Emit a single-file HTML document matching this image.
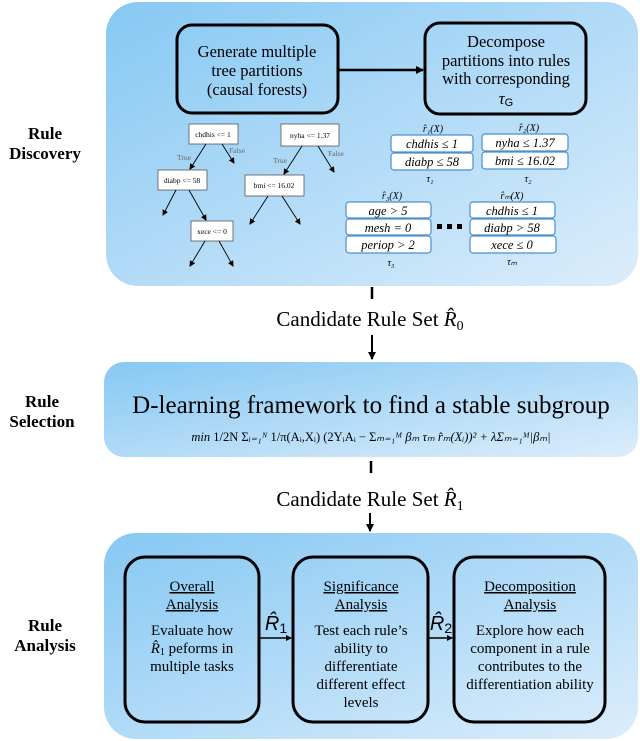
<!DOCTYPE html>
<html><head><meta charset="utf-8"><style>
html,body{margin:0;padding:0;background:#fff;}
svg{display:block;font-family:"Liberation Serif",serif;}
.it{font-style:italic}
</style></head><body>
<svg width="640" height="741" viewBox="0 0 640 741" xmlns="http://www.w3.org/2000/svg">
<defs>
<linearGradient id="g" x1="0" y1="0" x2="1" y2="1">
<stop offset="0" stop-color="#86c8f3"/><stop offset="1" stop-color="#dcedfb"/>
</linearGradient>
<marker id="a" markerWidth="8" markerHeight="8" refX="7" refY="4" orient="auto" markerUnits="userSpaceOnUse"><path d="M0,0 L8,4 L0,8 z" fill="#000"/></marker>
<marker id="s" markerWidth="6" markerHeight="6" refX="5" refY="3" orient="auto" markerUnits="userSpaceOnUse"><path d="M0,0 L6,3 L0,6 z" fill="#000"/></marker>
</defs>

<rect x="106" y="2" width="532" height="284" rx="32" fill="url(#g)"/>
<rect x="104" y="362" width="534" height="95" rx="20" fill="url(#g)"/>
<rect x="104" y="533" width="534" height="206" rx="32" fill="url(#g)"/>

<g font-weight="bold" font-size="17" text-anchor="middle">
<text x="45" y="139">Rule</text><text x="45" y="159">Discovery</text>
<text x="42" y="407">Rule</text><text x="42" y="427">Selection</text>
<text x="45" y="631">Rule</text><text x="45" y="651">Analysis</text>
</g>

<rect x="177" y="25" width="161" height="88" rx="15" fill="none" stroke="#000" stroke-width="3"/>
<g font-size="16.5" text-anchor="middle">
<text x="257" y="57">Generate multiple</text>
<text x="257" y="76">tree partitions</text>
<text x="257" y="95">(causal forests)</text>
</g>
<line x1="338" y1="70" x2="423" y2="70" stroke="#000" stroke-width="2.5" marker-end="url(#a)"/>
<rect x="425" y="23" width="161" height="91" rx="15" fill="none" stroke="#000" stroke-width="3"/>
<g font-size="16.5" text-anchor="middle">
<text x="506" y="47">Decompose</text>
<text x="506" y="66">partitions into rules</text>
<text x="506" y="84">with corresponding</text>
<text x="506" y="104" class="it">τ<tspan font-size="11" font-style="normal" font-family="Liberation Sans" dy="2">G</tspan></text>
</g>

<g font-size="7.5" text-anchor="middle" stroke-width="0.8">
<rect x="189" y="124" width="49" height="20" fill="#fff" stroke="#555"/><text x="213" y="137">chdhis &lt;= 1</text>
<rect x="281" y="124" width="58" height="22" fill="#fff" stroke="#555"/><text x="310" y="138">nyha &lt;= 1.37</text>
<rect x="158" y="170" width="49" height="20" fill="#fff" stroke="#555"/><text x="182" y="183">diabp &lt;= 58</text>
<rect x="245" y="175" width="59" height="21" fill="#fff" stroke="#555"/><text x="274" y="188">bmi &lt;= 16.02</text>
<rect x="191" y="221" width="42" height="20" fill="#fff" stroke="#555"/><text x="212" y="234">xece &lt;= 0</text>
<text x="184" y="160" fill="#666">True</text><text x="237" y="153" fill="#666">False</text>
<text x="280" y="163" fill="#666">True</text><text x="336" y="156" fill="#666">False</text>
</g>
<g stroke="#000" stroke-width="0.9" marker-end="url(#s)">
<line x1="206" y1="144" x2="190" y2="169"/><line x1="222" y1="144" x2="234" y2="163"/>
<line x1="302" y1="146" x2="284" y2="174"/><line x1="318" y1="146" x2="334" y2="172"/>
<line x1="176" y1="190" x2="163" y2="215"/><line x1="189" y1="190" x2="206" y2="220"/>
<line x1="268" y1="196" x2="250" y2="224"/><line x1="282" y1="196" x2="300" y2="224"/>
<line x1="205" y1="241" x2="190" y2="266"/><line x1="219" y1="241" x2="233" y2="266"/>
</g>

<g fill="#fff" stroke="#4a90d0" stroke-width="1.2">
<rect x="391" y="135" width="82" height="17" rx="3"/><rect x="391" y="153" width="82" height="17" rx="3"/>
<rect x="482" y="134" width="86" height="17" rx="3"/><rect x="482" y="152" width="86" height="17" rx="3"/>
<rect x="346" y="202" width="85" height="16" rx="3"/><rect x="346" y="219" width="85" height="16" rx="3"/><rect x="346" y="236" width="85" height="17" rx="3"/>
<rect x="470" y="202" width="85" height="16" rx="3"/><rect x="470" y="219" width="85" height="16" rx="3"/><rect x="470" y="236" width="86" height="17" rx="3"/>
</g>
<g font-size="12.5" text-anchor="middle" class="it">
<text x="432" y="148">chdhis ≤ 1</text><text x="432" y="166">diabp ≤ 58</text>
<text x="525" y="147">nyha ≤ 1.37</text><text x="525" y="165">bmi ≤ 16.02</text>
<text x="388" y="215">age &gt; 5</text><text x="388" y="232">mesh = 0</text><text x="388" y="249">periop &gt; 2</text>
<text x="512" y="215">chdhis ≤ 1</text><text x="512" y="232">diabp &gt; 58</text><text x="512" y="249">xece ≤ 0</text>
</g>
<g font-size="10" text-anchor="middle" class="it">
<text x="433" y="132">r̂₁(X)</text><text x="529" y="131">r̂₂(X)</text>
<text x="392" y="199">r̂₃(X)</text><text x="512" y="199">r̂ₘ(X)</text>
<text x="430" y="182">τ₁</text><text x="528" y="182">τ₂</text>
<text x="391" y="266">τ₃</text><text x="512" y="265">τₘ</text>
</g>
<g fill="#000"><rect x="437" y="224" width="5" height="5"/><rect x="447" y="224" width="5" height="5"/><rect x="457" y="224" width="5" height="5"/></g>

<line x1="372" y1="287" x2="372" y2="299" stroke="#000" stroke-width="2.5"/>
<text x="370" y="326" font-size="21" text-anchor="middle">Candidate Rule Set <tspan class="it">R̂</tspan><tspan font-size="14" dy="4">0</tspan></text>
<line x1="372" y1="335" x2="372" y2="359" stroke="#000" stroke-width="2" marker-end="url(#a)"/>
<text x="371" y="413" font-size="25" text-anchor="middle">D-learning framework to find a stable subgroup</text>
<text x="371" y="441" font-size="12.5" text-anchor="middle" class="it">min<tspan font-style="normal"> 1/2N Σ</tspan>ᵢ₌₁ᴺ<tspan font-style="normal"> 1/π(Aᵢ,Xᵢ) (2YᵢAᵢ − Σ</tspan>ₘ₌₁ᴹ βₘ τₘ r̂ₘ(Xᵢ))² + λΣₘ₌₁ᴹ|βₘ|</text>
<line x1="371" y1="461" x2="371" y2="473" stroke="#000" stroke-width="2.5"/>
<text x="370" y="506" font-size="21" text-anchor="middle">Candidate Rule Set <tspan class="it">R̂</tspan><tspan font-size="14" dy="4">1</tspan></text>
<line x1="370" y1="513" x2="370" y2="531" stroke="#000" stroke-width="2" marker-end="url(#a)"/>

<g fill="none" stroke="#000" stroke-width="3">
<rect x="125" y="557" width="134" height="165" rx="20"/>
<rect x="293" y="557" width="135" height="165" rx="20"/>
<rect x="454" y="557" width="151" height="165" rx="20"/>
</g>
<line x1="259" y1="638" x2="291" y2="638" stroke="#000" stroke-width="1.5" marker-end="url(#s)"/>
<line x1="428" y1="638" x2="452" y2="638" stroke="#000" stroke-width="1.5" marker-end="url(#s)"/>
<text x="276" y="630" font-size="20" text-anchor="middle" class="it" font-family="Liberation Sans">R̂<tspan font-size="14" font-style="normal" dy="3">1</tspan></text>
<text x="441" y="630" font-size="20" text-anchor="middle" class="it" font-family="Liberation Sans">R̂<tspan font-size="14" font-style="normal" dy="3">2</tspan></text>
<g font-size="15" text-anchor="middle">
<text x="192" y="591" text-decoration="underline">Overall</text>
<text x="192" y="609" text-decoration="underline">Analysis</text>
<text x="192" y="635">Evaluate how</text>
<text x="192" y="653"><tspan class="it">R̂</tspan><tspan font-size="10" dy="2">1</tspan><tspan dy="-2"> peforms in</tspan></text>
<text x="192" y="671">multiple tasks</text>
<text x="361" y="591" text-decoration="underline">Significance</text>
<text x="361" y="609" text-decoration="underline">Analysis</text>
<text x="361" y="635">Test each rule’s</text>
<text x="361" y="653">ability to</text>
<text x="361" y="671">differentiate</text>
<text x="361" y="689">different effect</text>
<text x="361" y="707">levels</text>
<text x="530" y="591" text-decoration="underline">Decomposition</text>
<text x="530" y="609" text-decoration="underline">Analysis</text>
<text x="530" y="635">Explore how each</text>
<text x="530" y="653">component in a rule</text>
<text x="530" y="671">contributes to the</text>
<text x="530" y="689">differentiation ability</text>
</g>
</svg>
</body></html>
